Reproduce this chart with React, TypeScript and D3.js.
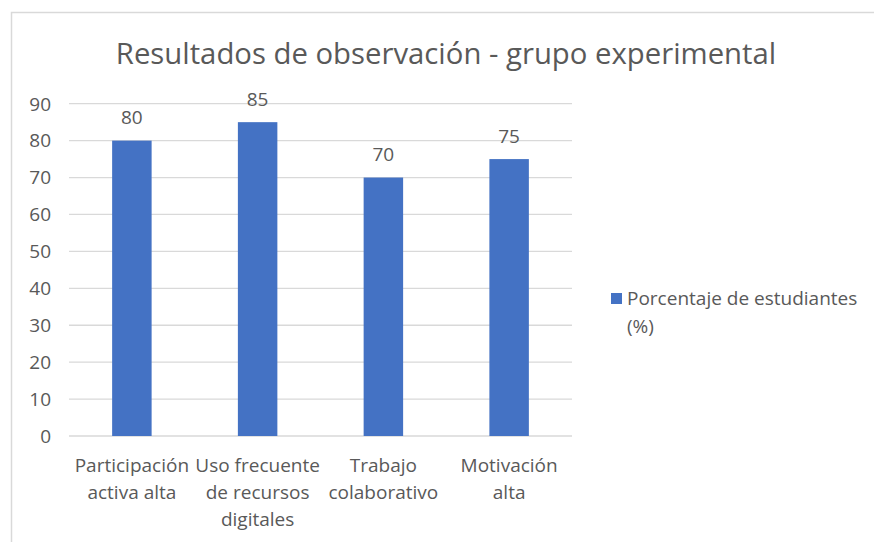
import React, { useEffect, useRef } from 'react';
import * as d3 from 'd3';

const categories = [
  ['Participación', 'activa alta'],
  ['Uso frecuente', 'de recursos', 'digitales'],
  ['Trabajo', 'colaborativo'],
  ['Motivación', 'alta'],
];
const values = [80, 85, 70, 75];
const yTicks = [0, 10, 20, 30, 40, 50, 60, 70, 80, 90];
const seriesName = ['Porcentaje de estudiantes', '(%)'];
const title = 'Resultados de observación - grupo experimental';

const FONT = "'Open Sans', 'Noto Sans', sans-serif";
const TEXT = '#595959';
const BAR = '#4472C4';
const GRID = '#d9d9d9';

const App = () => {
  const svgRef = useRef<SVGSVGElement>(null);

  useEffect(() => {
    const svg = d3.select(svgRef.current);
    svg.selectAll('*').remove();

    const width = 874;
    const height = 542;
    const plot = { left: 69, right: 572, top: 103.7, bottom: 436 };

    // frame
    svg.append('rect')
      .attr('x', 11.5).attr('y', 12.5)
      .attr('width', width + 20).attr('height', height + 20)
      .attr('fill', '#fff').attr('stroke', GRID).attr('stroke-width', 1.5);

    const x = d3.scaleBand<number>()
      .domain(d3.range(values.length))
      .range([plot.left, plot.right])
      .paddingInner(0.686).paddingOuter(0.343);

    const y = d3.scaleLinear().domain([0, 90]).range([plot.bottom, plot.top]);

    // gridlines
    svg.append('g').selectAll('line').data(yTicks).enter().append('line')
      .attr('x1', plot.left).attr('x2', plot.right)
      .attr('y1', (d) => y(d)).attr('y2', (d) => y(d))
      .attr('stroke', GRID).attr('stroke-width', 1.3);

    // y tick labels
    svg.append('g').selectAll('text').data(yTicks).enter().append('text')
      .attr('x', 51).attr('y', (d) => y(d))
      .attr('dy', '0.36em')
      .attr('text-anchor', 'end')
      .style('font-family', FONT).style('font-size', '19px').attr('fill', TEXT)
      .text((d) => d);

    // bars
    svg.append('g').selectAll('rect').data(values).enter().append('rect')
      .attr('x', (_, i) => x(i)!)
      .attr('width', x.bandwidth())
      .attr('y', (d) => y(d))
      .attr('height', (d) => y(0) - y(d))
      .attr('fill', BAR);

    // data labels
    svg.append('g').selectAll('text').data(values).enter().append('text')
      .attr('x', (_, i) => x(i)! + x.bandwidth() / 2)
      .attr('y', (d) => y(d) - 16.5)
      .attr('text-anchor', 'middle')
      .style('font-family', FONT).style('font-size', '19px').attr('fill', TEXT)
      .text((d) => d);

    // category labels
    const cat = svg.append('g').selectAll('text').data(categories).enter().append('text')
      .attr('text-anchor', 'middle')
      .style('font-family', FONT).style('font-size', '19px').attr('fill', TEXT);
    cat.each(function (lines, i) {
      d3.select(this).selectAll('tspan').data(lines).enter().append('tspan')
        .attr('x', x(i)! + x.bandwidth() / 2)
        .attr('y', (_, j) => 472 + j * 27)
        .text((l) => l);
    });

    // title
    svg.append('text')
      .attr('x', 446).attr('y', 64)
      .attr('text-anchor', 'middle')
      .style('font-family', FONT).style('font-size', '29.3px').attr('fill', TEXT)
      .text(title);

    // legend
    svg.append('rect')
      .attr('x', 611).attr('y', 293).attr('width', 11).attr('height', 11)
      .attr('fill', BAR);
    svg.append('text')
      .style('font-family', FONT).style('font-size', '19px').attr('fill', TEXT)
      .selectAll('tspan').data(seriesName).enter().append('tspan')
      .attr('x', 627).attr('y', (_, j) => 305 + j * 28)
      .text((d) => d);
  }, []);

  return (
    <svg
      ref={svgRef}
      width={874}
      height={542}
      style={{ position: 'absolute', left: 0, top: 0, background: '#fff' }}
    />
  );
};

export default App;
